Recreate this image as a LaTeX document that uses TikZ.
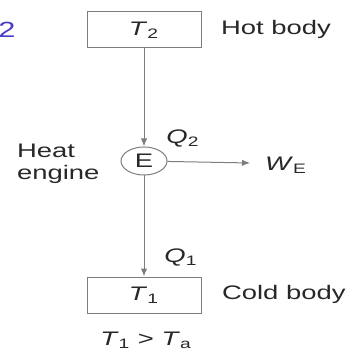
\documentclass[tikz,border=0pt]{standalone}
\usepackage{fontspec}
\setmainfont{Liberation Sans}[FakeStretch=1.4]
\usepackage{tikz}
\usetikzlibrary{arrows.meta,shapes.geometric}
\definecolor{LineGray}{RGB}{125,125,125}
\definecolor{TextGray}{RGB}{40,40,40}
\definecolor{InkBlue}{RGB}{72,60,200}

\begin{document}
\begin{tikzpicture}[x=0.5pt,y=-0.5pt,>={Latex[length=4pt,width=3.2pt]},
  every node/.style={font=\fontsize{9.8}{11}\selectfont,text=TextGray},
  body/.style={draw=LineGray,line width=0.5pt,minimum width=57pt,minimum height=18pt,inner sep=0pt},
  engine/.style={draw=LineGray,line width=0.5pt,ellipse,minimum width=23pt,minimum height=14pt,inner sep=0pt},
  flow/.style={->,LineGray,line width=0.5pt}]
  \useasboundingbox (0,0) rectangle (349,351);
  \node[text=InkBlue,font=\fontsize{11}{11}\selectfont] (mark) at (7,30) {2};
  % reservoirs and engine
  \node[body] (hot) at (144,30) {\textit{T}\textsubscript{2}};
  \node[engine] (eng) at (144,161) {E};
  \node[body] (cold) at (144,295) {\textit{T}\textsubscript{1}};
  \coordinate (wout) at (250,163);
  \draw[flow] (hot) -- (eng);
  \draw[flow] (eng) -- (cold);
  \draw[flow] (eng) -- (wout);
  % labels
  \node[anchor=west] (hotlbl) at (214,29) {Hot body};
  \node[anchor=west] (coldlbl) at (215,294) {Cold body};
  \node[anchor=west,align=left] (englbl) at (10,164) {Heat\\engine};
  \node (q2) at (183,139) {\textit{Q}\textsubscript{2}};
  \node (q1) at (181,258) {\textit{Q}\textsubscript{1}};
  \node[anchor=west] (we) at (258,165) {\textit{W}\textsubscript{E}};
  \node (cond) at (146,340) {\textit{T}\textsubscript{1} > \textit{T}\textsubscript{a}};
\end{tikzpicture}
\end{document}
